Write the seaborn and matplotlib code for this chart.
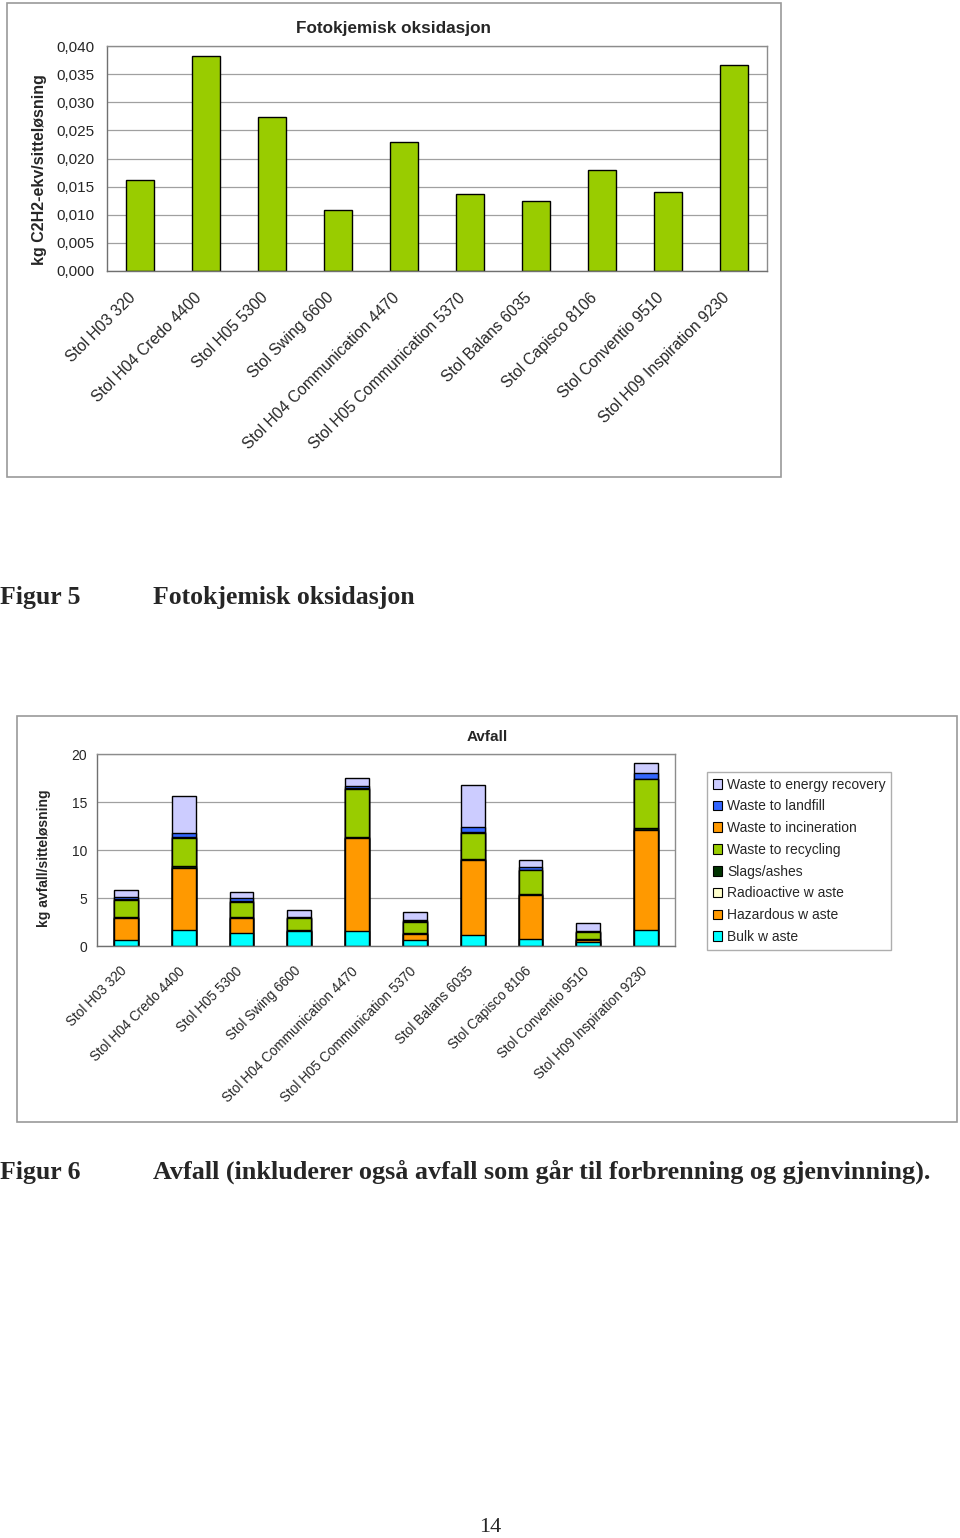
import numpy as np
import pandas as pd
import matplotlib
matplotlib.use("Agg")
import matplotlib.pyplot as plt
import matplotlib.transforms as mtransforms
import seaborn as sns
from matplotlib.patches import Rectangle, Patch
from matplotlib.ticker import FuncFormatter

# ---------------- data ----------------
categories = ["Stol H03 320", "Stol H04 Credo 4400", "Stol H05 5300", "Stol Swing 6600",
              "Stol H04 Communication 4470", "Stol H05 Communication 5370", "Stol Balans 6035",
              "Stol Capisco 8106", "Stol Conventio 9510", "Stol H09 Inspiration 9230"]

photochem = [0.0161, 0.0382, 0.0274, 0.0108, 0.0229, 0.0137, 0.0124, 0.0179, 0.0140, 0.0366]

bulk         = [0.63, 1.68, 1.33, 1.55, 1.54, 0.63, 1.16, 0.77, 0.45, 1.68]
hazardous    = [2.27, 6.40, 1.55, 0.05, 9.70, 0.60, 7.80, 4.55, 0.15, 10.40]
radioactive  = [0.01, 0.01, 0.01, 0.01, 0.01, 0.01, 0.01, 0.01, 0.01, 0.01]
slags        = [0.10, 0.20, 0.10, 0.05, 0.15, 0.15, 0.10, 0.10, 0.15, 0.20]
recycling    = [1.80, 3.00, 1.60, 1.25, 5.00, 1.15, 2.75, 2.45, 0.65, 5.10]
incineration = [0.05, 0.05, 0.05, 0.03, 0.05, 0.03, 0.05, 0.05, 0.03, 0.05]
landfill     = [0.20, 0.45, 0.35, 0.10, 0.20, 0.15, 0.50, 0.25, 0.10, 0.60]
energy       = [0.75, 3.80, 0.65, 0.66, 0.85, 0.86, 4.40, 0.80, 0.88, 1.00]

components = ["Bulk w aste", "Hazardous w aste", "Radioactive w aste", "Slags/ashes",
              "Waste to recycling", "Waste to incineration", "Waste to landfill",
              "Waste to energy recovery"]
series = [bulk, hazardous, radioactive, slags, recycling, incineration, landfill, energy]
colors = ["#00FFFF", "#FF9900", "#FFFFCC", "#003300", "#99CC00", "#FF9900", "#3366FF", "#CCCCFF"]

y1_ticks = [0.0, 0.005, 0.010, 0.015, 0.020, 0.025, 0.030, 0.035, 0.040]
y2_ticks = [0, 5, 10, 15, 20]

# ---------------- style ----------------
sns.set_style("white")
plt.rcParams["font.family"] = ["Liberation Sans", "DejaVu Sans"]

W, H = 960, 1538
fig = plt.figure(figsize=(W / 100, H / 100), dpi=100)


def rect(x0, y0, x1, y1):
    return [x0 / W, 1 - y1 / H, (x1 - x0) / W, (y1 - y0) / H]


def frame(x0, y0, x1, y1):
    fig.add_artist(Rectangle((x0 / W, 1 - y1 / H), (x1 - x0) / W, (y1 - y0) / H,
                             transform=fig.transFigure, fill=False,
                             edgecolor="#9a9a9a", linewidth=1.2))


def style_axes(ax, ticks, fmt, fs_y, fs_x, dx, dy, ypad):
    for s in ax.spines.values():
        s.set_color("#8c8c8c")
        s.set_linewidth(1.0)
    ax.spines["left"].set_color("#707070")
    ax.spines["bottom"].set_color("#707070")
    ax.set_yticks(ticks)
    ax.yaxis.set_major_formatter(FuncFormatter(fmt))
    ax.yaxis.grid(True, color="#a0a0a0", linewidth=0.9)
    ax.xaxis.grid(False)
    ax.set_axisbelow(True)
    ax.set_xlim(-0.5, len(categories) - 0.5)
    ax.set_xticks(np.arange(len(categories)))
    ax.set_xticks(np.arange(-0.5, len(categories), 1), minor=True)
    ax.tick_params(axis="x", which="major", length=0, pad=8)
    ax.tick_params(axis="x", which="minor", length=5, color="#707070", direction="out")
    ax.tick_params(axis="y", length=5, color="#707070", direction="out", labelsize=fs_y,
                   pad=ypad)
    ax.set_xticklabels(categories, rotation=45, ha="right", rotation_mode="anchor",
                       fontsize=fs_x)
    off = mtransforms.ScaledTranslation(dx / 100, -dy / 100, fig.dpi_scale_trans)
    for lab in ax.get_xticklabels():
        lab.set_transform(lab.get_transform() + off)
    ax.set_xlabel("")


# ---------------- chart 1 ----------------
frame(7, 3, 781, 477)
ax1 = fig.add_axes(rect(107, 46, 767, 271))
sns.barplot(x=categories, y=photochem, color="#99CC00", saturation=1, width=0.43,
            edgecolor="black", linewidth=1.0, errorbar=None, ax=ax1)
ax1.set_ylim(0, 0.040)
style_axes(ax1, y1_ticks, lambda v, p: f"{v:.3f}".replace(".", ","), 11, 11.3, -12, 8, 4)
ax1.set_ylabel("kg C2H2-ekv/sitteløsning", fontsize=11.5, fontweight="bold")
ax1.yaxis.set_label_coords((47 - 107) / 660, (271 - 170) / 225)
fig.text(394 / W, 1 - 28 / H, "Fotokjemisk oksidasjon", fontsize=12.3, fontweight="bold",
         ha="center", va="center")

fig.text(0 / W, 1 - 598 / H, "Figur 5", family="Liberation Serif", fontweight="bold",
         fontsize=18.5, va="center", ha="left")
fig.text(153 / W, 1 - 598 / H, "Fotokjemisk oksidasjon", family="Liberation Serif",
         fontweight="bold", fontsize=18.5, va="center", ha="left")

# ---------------- chart 2 ----------------
frame(17, 716, 957, 1122)
ax2 = fig.add_axes(rect(97, 754, 675, 946))

rows = []
for i, name in enumerate(components):
    cum = np.sum(np.array(series[: i + 1]), axis=0)
    for c, v in zip(categories, cum):
        rows.append({"chair": c, "component": name, "cum": v})
long = pd.DataFrame(rows)
palette = dict(zip(components, colors))
hue_order = components[::-1]  # tallest cumulative drawn first
sns.barplot(data=long, x="chair", y="cum", hue="component", hue_order=hue_order,
            order=categories, palette=palette, saturation=1, dodge=False, width=0.415,
            edgecolor="black", linewidth=1.0, errorbar=None, legend=False, ax=ax2)
ax2.set_ylim(0, 20)
style_axes(ax2, y2_ticks, lambda v, p: f"{int(v)}", 10, 9.8, -6, 7, 2)
ax2.set_ylabel("kg avfall/sitteløsning", fontsize=10, fontweight="bold")
ax2.yaxis.set_label_coords((51 - 97) / 578, (946 - 858) / 192)
fig.text(487 / W, 1 - 737 / H, "Avfall", fontsize=11, fontweight="bold",
         ha="center", va="center")

handles = [Patch(facecolor=palette[n], edgecolor="black", linewidth=0.8) for n in hue_order]
leg = fig.legend(handles, hue_order, loc="upper left",
                 bbox_to_anchor=(707 / W, 1 - 772 / H), fontsize=10, frameon=True,
                 fancybox=False, shadow=False, handlelength=0.7, handleheight=0.7,
                 handletextpad=0.35, labelspacing=0.56, borderpad=0.4, borderaxespad=0)
leg.get_frame().set_edgecolor("#9a9a9a")
leg.get_frame().set_linewidth(1.0)

fig.text(0 / W, 1 - 1172 / H, "Figur 6", family="Liberation Serif", fontweight="bold",
         fontsize=18.5, va="center", ha="left")
fig.text(153 / W, 1 - 1172 / H,
         "Avfall (inkluderer også avfall som går til forbrenning og gjenvinning).",
         family="Liberation Serif", fontweight="bold", fontsize=18.8, va="center", ha="left")

fig.text(490 / W, 1 - 1528 / H, "14", family="Liberation Serif", fontsize=16,
         va="center", ha="center")

fig.savefig("out.png", dpi=100, facecolor="white")
